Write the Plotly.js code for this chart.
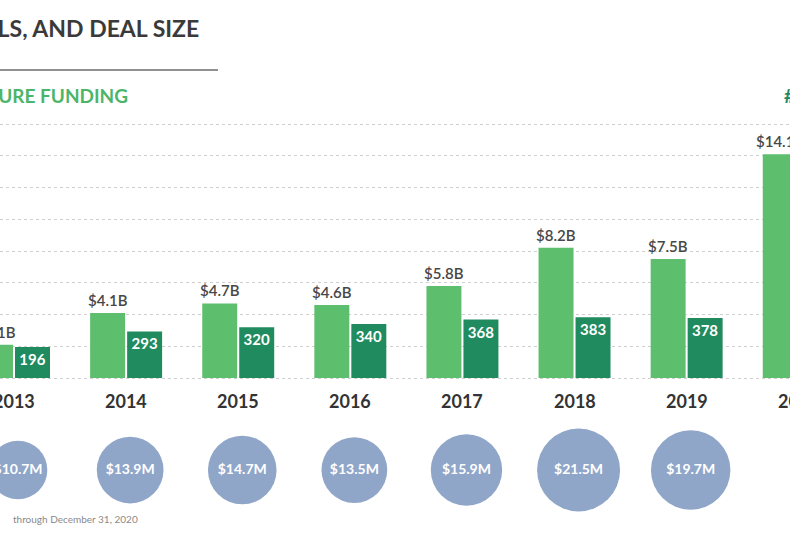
<!DOCTYPE html>
<html>
<head>
<meta charset="utf-8">
<script src="https://cdn.plot.ly/plotly-3.0.1.min.js"></script>
<style>
  html, body { margin: 0; padding: 0; background: #ffffff; }
  #chart { width: 790px; height: 536px; }
</style>
</head>
<body>
<div id="chart"></div>
<script>
// ---- data ----
const years = ["2013", "2014", "2015", "2016", "2017", "2018", "2019", "2020"];
const fundingB = [2.1, 4.1, 4.7, 4.6, 5.8, 8.2, 7.5, 14.1];        // venture funding, $B
const deals = [196, 293, 320, 340, 368, 383, 378, 455];             // # of deals
const dealSizeM = [10.7, 13.9, 14.7, 13.5, 15.9, 21.5, 19.7, 31.0]; // deal size, $M

const titleText = "VENTURE FUNDING, DEALS, AND DEAL SIZE";
const leftHeader = "VENTURE FUNDING";
const rightHeader = "# OF DEALS";
const footnote = "through December 31, 2020";

// ---- styling ----
const FONT = "Lato, 'Open Sans', sans-serif";
const LIGHT_GREEN = "#5dbf6e";
const DARK_GREEN = "#1f8b5f";
const BUBBLE = "#8fa6c9";

const X_RANGE = [-0.125, 6.922];
const PX_PER_CAT = 790 / (X_RANGE[1] - X_RANGE[0]);
const BAR_W = 0.312;
const FUND_OFFSET = -0.321;
const DEAL_OFFSET = 0.009;

// keep an annotation anchored inside the axis range, shifting it in pixels to its true spot
function clampX(pos) {
  const xa = Math.max(X_RANGE[0] + 0.001, Math.min(pos, X_RANGE[1] - 0.001));
  return { x: xa, xshift: (pos - xa) * PX_PER_CAT };
}

const fundingTrace = {
  type: "bar",
  x: years,
  y: fundingB,
  xaxis: "x",
  yaxis: "y",
  width: BAR_W,
  offset: FUND_OFFSET,
  marker: { color: LIGHT_GREEN },
  cliponaxis: false,
  hoverinfo: "skip"
};

const dealsTrace = {
  type: "bar",
  x: years,
  y: deals,
  xaxis: "x",
  yaxis: "y2",
  width: BAR_W,
  offset: DEAL_OFFSET,
  marker: { color: DARK_GREEN },
  text: deals.map(v => String(v)),
  textposition: "inside",
  insidetextanchor: "end",
  constraintext: "none",
  textangle: 0,
  cliponaxis: false,
  textfont: { family: FONT, size: 15, color: "#ffffff", weight: 700 },
  hoverinfo: "skip"
};

const bubbleTrace = {
  type: "scatter",
  mode: "markers+text",
  x: years,
  y: years.map(() => 0.5),
  xaxis: "x2",
  yaxis: "y3",
  marker: {
    size: dealSizeM,
    sizemode: "area",
    sizeref: 0.00624,
    color: BUBBLE,
    line: { width: 0 },
    opacity: 1
  },
  text: dealSizeM.map(v => "$" + v.toFixed(1) + "M"),
  textposition: "middle center",
  textfont: { family: FONT, size: 14, color: "#ffffff", weight: 700 },
  cliponaxis: false,
  hoverinfo: "skip"
};

// funding value labels above the light bars
const fundingAnnotations = fundingB.map((v, i) => {
  const c = clampX(i + FUND_OFFSET + BAR_W / 2);
  return {
    text: "$" + v.toFixed(1) + "B", xref: "x", yref: "y",
    x: c.x, xshift: c.xshift, y: v, yshift: 2,
    xanchor: "center", yanchor: "bottom",
    showarrow: false,
    font: { family: FONT, size: 15, color: "#474747", weight: 600 }
  };
});

// year labels under the bars
const yearAnnotations = years.map((yr, i) => {
  const c = clampX(i);
  return {
    text: yr, xref: "x", yref: "paper",
    x: c.x, xshift: c.xshift,
    y: 1 - 401 / 536, xanchor: "center", yanchor: "middle",
    showarrow: false,
    font: { family: FONT, size: 18, color: "#333333", weight: 700 }
  };
});

const layout = {
  width: 790,
  height: 536,
  margin: { l: 0, r: 0, t: 0, b: 0, pad: 0 },
  paper_bgcolor: "#ffffff",
  plot_bgcolor: "#ffffff",
  showlegend: false,
  barmode: "overlay",
  font: { family: FONT, color: "#333333" },
  xaxis: {
    type: "category",
    categoryorder: "array",
    categoryarray: years,
    range: X_RANGE,
    domain: [0, 1],
    anchor: "y",
    showgrid: false,
    zeroline: false,
    showline: false,
    ticks: "",
    showticklabels: false,
    fixedrange: true
  },
  xaxis2: {
    type: "category",
    categoryorder: "array",
    categoryarray: years,
    range: [X_RANGE[0] - 0.036, X_RANGE[1] - 0.036],
    domain: [0, 1],
    anchor: "y3",
    overlaying: "x",
    visible: false
  },
  yaxis: {
    domain: [0.28590, 0.78347],
    range: [-0.3, 16.5],
    dtick: 2,
    tick0: 0,
    showticklabels: false,
    ticks: "",
    showgrid: true,
    gridcolor: "#cfcfcf",
    gridwidth: 1,
    griddash: "dot",
    zeroline: false,
    showline: false
  },
  yaxis2: {
    overlaying: "y",
    range: [-30, 1650],
    visible: false,
    showgrid: false
  },
  yaxis3: {
    domain: [0, 0.2462],
    range: [0, 1],
    visible: false,
    showgrid: false,
    anchor: "x2"
  },
  shapes: [
    {
      type: "line", xref: "paper", yref: "paper",
      x0: 0, x1: 218 / 790, y0: 1 - 70 / 536, y1: 1 - 70 / 536,
      line: { color: "#6b6b6b", width: 1.5 }
    }
  ],
  annotations: [
    {
      text: titleText, xref: "paper", yref: "paper",
      x: 201 / 790, y: 1 - 28 / 536, xanchor: "right", yanchor: "middle",
      showarrow: false,
      font: { family: FONT, size: 23, color: "#3a3a3a", weight: 700 }
    },
    {
      text: leftHeader, xref: "paper", yref: "paper",
      x: 130 / 790, y: 1 - 96 / 536, xanchor: "right", yanchor: "middle",
      showarrow: false,
      font: { family: FONT, size: 19, color: "#4db56a", weight: 700 }
    },
    {
      text: rightHeader, xref: "paper", yref: "paper",
      x: 782 / 790, y: 1 - 96 / 536, xanchor: "left", yanchor: "middle",
      showarrow: false,
      font: { family: FONT, size: 19, color: DARK_GREEN, weight: 700 }
    },
    {
      text: footnote, xref: "paper", yref: "paper",
      x: 11 / 790, y: 1 - 519 / 536, xanchor: "left", yanchor: "middle",
      showarrow: false,
      font: { family: FONT, size: 10, color: "#8a8a8a" }
    }
  ].concat(fundingAnnotations, yearAnnotations)
};

Plotly.newPlot("chart", [fundingTrace, dealsTrace, bubbleTrace], layout, {
  displayModeBar: false,
  staticPlot: true,
  responsive: false
});
</script>
</body>
</html>
